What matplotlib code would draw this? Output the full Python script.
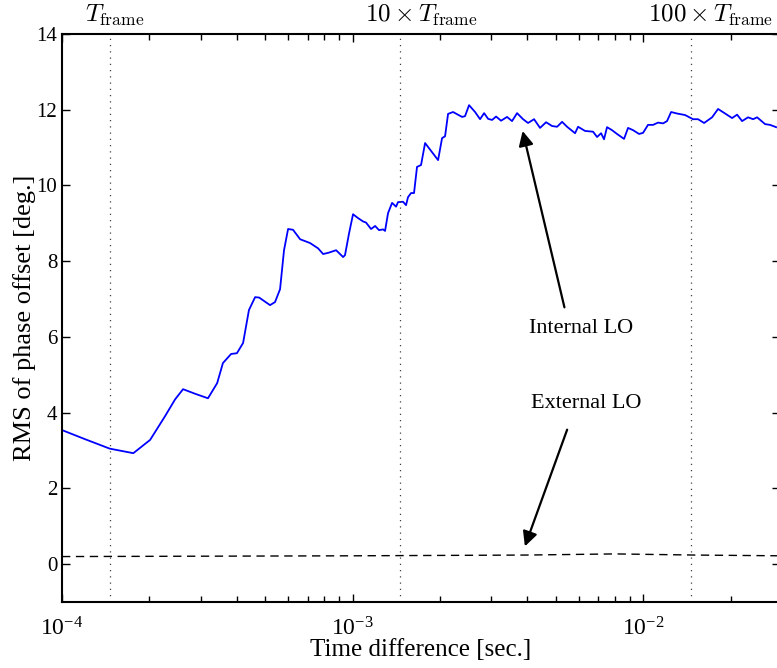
import matplotlib
matplotlib.use("Agg")
import matplotlib.pyplot as plt
from matplotlib.ticker import FixedLocator, FixedFormatter, LogLocator, NullFormatter

plt.rcParams["font.family"] = ["Liberation Serif", "DejaVu Serif"]
plt.rcParams["mathtext.fontset"] = "cm"

# internal LO: RMS phase offset vs time difference
t_int = [1.00e-4, 1.20e-4, 1.46e-4, 1.76e-4, 2.01e-4, 2.26e-4, 2.45e-4, 2.61e-4,
         2.87e-4, 3.18e-4, 3.42e-4, 3.58e-4, 3.82e-4, 4.00e-4, 4.20e-4, 4.40e-4,
         4.62e-4, 4.77e-4, 5.20e-4, 5.41e-4, 5.63e-4, 5.81e-4, 6.00e-4, 6.24e-4,
         6.60e-4, 7.14e-4, 7.61e-4, 7.92e-4, 8.24e-4, 8.78e-4, 9.28e-4, 9.42e-4,
         9.73e-4, 1.004e-3, 1.044e-3, 1.087e-3, 1.113e-3, 1.158e-3, 1.196e-3, 1.234e-3,
         1.274e-3, 1.294e-3, 1.325e-3, 1.368e-3, 1.412e-3, 1.434e-3, 1.492e-3, 1.528e-3,
         1.552e-3, 1.590e-3, 1.628e-3, 1.667e-3, 1.721e-3, 1.777e-3, 1.970e-3, 2.033e-3,
         2.082e-3, 2.132e-3, 2.218e-3, 2.382e-3, 2.439e-3, 2.518e-3, 2.641e-3, 2.748e-3,
         2.837e-3, 2.928e-3, 3.022e-3, 3.119e-3, 3.245e-3, 3.402e-3, 3.540e-3, 3.684e-3,
         3.863e-3, 4.019e-3, 4.215e-3, 4.420e-3, 4.635e-3, 4.861e-3, 5.058e-3, 5.263e-3,
         5.476e-3, 5.834e-3, 5.974e-3, 6.314e-3, 6.728e-3, 6.945e-3, 7.170e-3, 7.338e-3,
         7.516e-3, 7.820e-3, 8.136e-3, 8.600e-3, 8.878e-3, 9.240e-3, 9.688e-3, 1.000e-2,
         1.040e-2, 1.082e-2, 1.126e-2, 1.172e-2, 1.209e-2, 1.249e-2, 1.309e-2, 1.395e-2,
         1.486e-2, 1.546e-2, 1.622e-2, 1.728e-2, 1.812e-2, 1.916e-2, 2.025e-2, 2.107e-2,
         2.192e-2, 2.298e-2, 2.392e-2, 2.469e-2, 2.630e-2, 2.736e-2, 2.870e-2]
rms_int = [3.54, 3.30, 3.05, 2.93, 3.28, 3.90, 4.35, 4.62,
           4.50, 4.38, 4.78, 5.31, 5.55, 5.57, 5.84, 6.71,
           7.05, 7.04, 6.84, 6.92, 7.26, 8.29, 8.85, 8.83,
           8.58, 8.48, 8.34, 8.19, 8.22, 8.29, 8.11, 8.16,
           8.74, 9.24, 9.14, 9.05, 9.02, 8.85, 8.93, 8.82,
           8.84, 8.80, 9.27, 9.54, 9.44, 9.56, 9.57, 9.48,
           9.69, 9.80, 9.80, 10.49, 10.54, 11.12, 10.67, 11.25,
           11.30, 11.89, 11.94, 11.81, 11.83, 12.12, 11.94, 11.75,
           11.91, 11.76, 11.73, 11.82, 11.71, 11.81, 11.70, 11.91,
           11.75, 11.65, 11.75, 11.52, 11.67, 11.57, 11.55, 11.68,
           11.55, 11.38, 11.55, 11.44, 11.42, 11.28, 11.38, 11.22,
           11.54, 11.46, 11.36, 11.23, 11.52, 11.46, 11.36, 11.39,
           11.60, 11.60, 11.66, 11.64, 11.70, 11.94, 11.90, 11.86,
           11.75, 11.75, 11.65, 11.80, 12.02, 11.90, 11.78, 11.87,
           11.70, 11.80, 11.75, 11.80, 11.62, 11.60, 11.54]

# external LO
t_ext = [1.0e-4, 1.0e-3, 4.0e-3, 8.0e-3, 1.5e-2, 2.96e-2]
rms_ext = [0.20, 0.22, 0.24, 0.27, 0.24, 0.22]

T_FRAME = 1.46e-4
frame_mult = [1, 10, 100]
frame_labels = [r"$T_{\rm frame}$", r"$10 \times T_{\rm frame}$", r"$100 \times T_{\rm frame}$"]
frame_label_x = [1.52e-4, 1.72e-3, 1.71e-2]

yticks = [0, 2, 4, 6, 8, 10, 12, 14]
xticks = [1e-4, 1e-3, 1e-2]
xticklabels = [r"$\mathregular{10^{-4}}$", r"$\mathregular{10^{-3}}$", r"$\mathregular{10^{-2}}$"]

fig = plt.figure(figsize=(7.77, 6.68), dpi=100)
ax = fig.add_axes([62/777, 66/668, 718/777, 568/668])

ax.plot(t_int, rms_int, color="#0000ff", lw=1.3)
ax.plot(t_ext, rms_ext, color="k", lw=1.0, dashes=(6, 4))

for m in frame_mult:
    ax.axvline(T_FRAME * m, color="0.25", lw=0.9, dashes=(1, 4))
for xl, lab in zip(frame_label_x, frame_labels):
    ax.text(xl, 1.021, lab, transform=ax.get_xaxis_transform(), ha="center",
            va="baseline", fontsize=18)

ax.annotate("", xy=(3.83e-3, 11.51), xytext=(5.39e-3, 6.71),
            arrowprops=dict(arrowstyle="-|>", color="k", lw=1.6, mutation_scale=22))
ax.annotate("", xy=(3.89e-3, 0.40), xytext=(5.52e-3, 3.62),
            arrowprops=dict(arrowstyle="-|>", color="k", lw=1.6, mutation_scale=22))
ax.text(6.12e-3, 6.21, "Internal LO", ha="center", va="center", fontsize=16)
ax.text(6.36e-3, 4.23, "External LO", ha="center", va="center", fontsize=16)

ax.set_xscale("log")
ax.set_xlim(1e-4, 2.96e-2)
ax.set_ylim(-1, 14)
ax.xaxis.set_major_locator(FixedLocator(xticks))
ax.xaxis.set_major_formatter(FixedFormatter(xticklabels))
ax.xaxis.set_minor_locator(LogLocator(base=10, subs=range(2, 10)))
ax.xaxis.set_minor_formatter(NullFormatter())
ax.set_yticks(yticks)
ax.tick_params(which="both", direction="in", top=True, right=True, labelsize=15, width=1)
ax.tick_params(which="major", length=6)
ax.tick_params(which="minor", length=4)
ax.tick_params(axis="x", which="major", pad=11, labelsize=17)
for s in ax.spines.values():
    s.set_linewidth(1.5)

ax.set_xlabel("Time difference [sec.]", fontsize=18, labelpad=-1)
ax.set_ylabel("RMS of phase offset [deg.]", fontsize=19, labelpad=0)

fig.savefig("out.png", dpi=100)
